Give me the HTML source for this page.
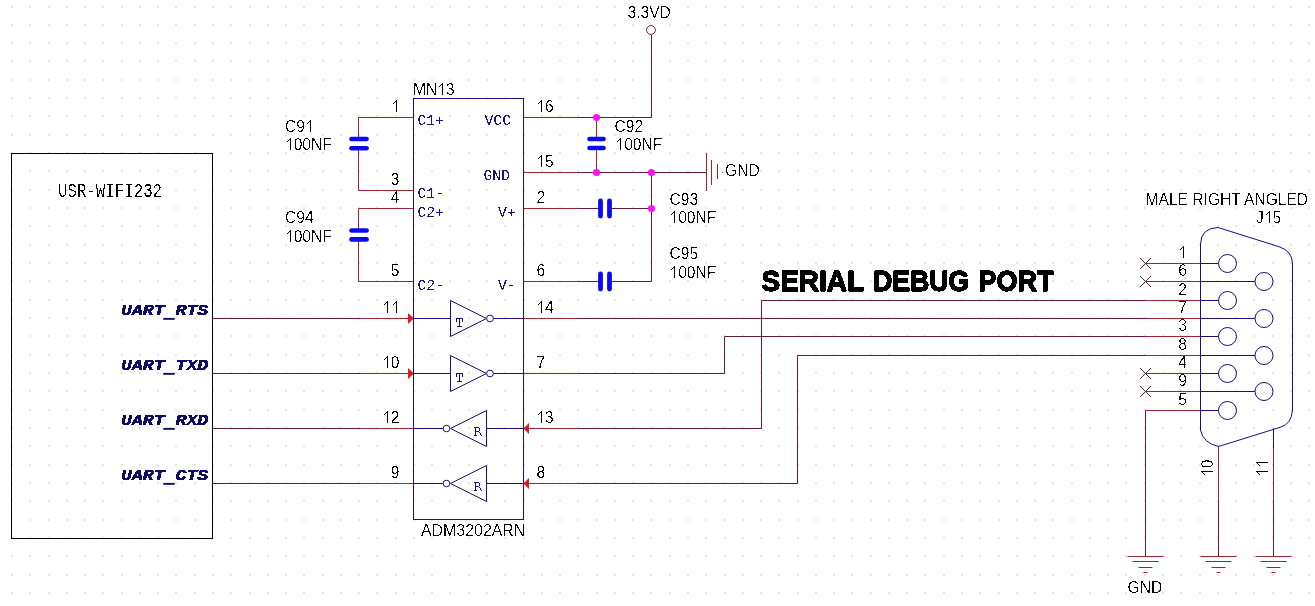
<!DOCTYPE html>
<html><head><meta charset="utf-8"><style>
html,body{margin:0;padding:0;background:#fff;overflow:hidden}
svg{display:block}
</style></head><body>
<svg width="1315" height="606" viewBox="0 0 1315 606">
<defs><filter id="al" x="-5%" y="-20%" width="110%" height="140%"><feComponentTransfer><feFuncA type="discrete" tableValues="0 1"/></feComponentTransfer></filter><filter id="al2" x="-5%" y="-20%" width="110%" height="140%"><feComponentTransfer><feFuncA type="discrete" tableValues="0 0 0 1 1"/></feComponentTransfer></filter></defs>
<rect width="1315" height="606" fill="#fff"/>
<path d="M11 6h2v2h-2zM11 24h2v2h-2zM11 42h2v2h-2zM11 60h2v2h-2zM11 79h2v2h-2zM11 97h2v2h-2zM11 115h2v2h-2zM11 134h2v2h-2zM11 152h2v2h-2zM11 170h2v2h-2zM11 189h2v2h-2zM11 207h2v2h-2zM11 225h2v2h-2zM11 244h2v2h-2zM11 262h2v2h-2zM11 280h2v2h-2zM11 299h2v2h-2zM11 317h2v2h-2zM11 335h2v2h-2zM11 354h2v2h-2zM11 372h2v2h-2zM11 390h2v2h-2zM11 409h2v2h-2zM11 427h2v2h-2zM11 445h2v2h-2zM11 464h2v2h-2zM11 482h2v2h-2zM11 500h2v2h-2zM11 519h2v2h-2zM11 537h2v2h-2zM11 555h2v2h-2zM11 574h2v2h-2zM11 592h2v2h-2zM29 6h2v2h-2zM29 24h2v2h-2zM29 42h2v2h-2zM29 60h2v2h-2zM29 79h2v2h-2zM29 97h2v2h-2zM29 115h2v2h-2zM29 134h2v2h-2zM29 152h2v2h-2zM29 170h2v2h-2zM29 189h2v2h-2zM29 207h2v2h-2zM29 225h2v2h-2zM29 244h2v2h-2zM29 262h2v2h-2zM29 280h2v2h-2zM29 299h2v2h-2zM29 317h2v2h-2zM29 335h2v2h-2zM29 354h2v2h-2zM29 372h2v2h-2zM29 390h2v2h-2zM29 409h2v2h-2zM29 427h2v2h-2zM29 445h2v2h-2zM29 464h2v2h-2zM29 482h2v2h-2zM29 500h2v2h-2zM29 519h2v2h-2zM29 537h2v2h-2zM29 555h2v2h-2zM29 574h2v2h-2zM29 592h2v2h-2zM48 6h2v2h-2zM48 24h2v2h-2zM48 42h2v2h-2zM48 60h2v2h-2zM48 79h2v2h-2zM48 97h2v2h-2zM48 115h2v2h-2zM48 134h2v2h-2zM48 152h2v2h-2zM48 170h2v2h-2zM48 189h2v2h-2zM48 207h2v2h-2zM48 225h2v2h-2zM48 244h2v2h-2zM48 262h2v2h-2zM48 280h2v2h-2zM48 299h2v2h-2zM48 317h2v2h-2zM48 335h2v2h-2zM48 354h2v2h-2zM48 372h2v2h-2zM48 390h2v2h-2zM48 409h2v2h-2zM48 427h2v2h-2zM48 445h2v2h-2zM48 464h2v2h-2zM48 482h2v2h-2zM48 500h2v2h-2zM48 519h2v2h-2zM48 537h2v2h-2zM48 555h2v2h-2zM48 574h2v2h-2zM48 592h2v2h-2zM66 6h2v2h-2zM66 24h2v2h-2zM66 42h2v2h-2zM66 60h2v2h-2zM66 79h2v2h-2zM66 97h2v2h-2zM66 115h2v2h-2zM66 134h2v2h-2zM66 152h2v2h-2zM66 170h2v2h-2zM66 189h2v2h-2zM66 207h2v2h-2zM66 225h2v2h-2zM66 244h2v2h-2zM66 262h2v2h-2zM66 280h2v2h-2zM66 299h2v2h-2zM66 317h2v2h-2zM66 335h2v2h-2zM66 354h2v2h-2zM66 372h2v2h-2zM66 390h2v2h-2zM66 409h2v2h-2zM66 427h2v2h-2zM66 445h2v2h-2zM66 464h2v2h-2zM66 482h2v2h-2zM66 500h2v2h-2zM66 519h2v2h-2zM66 537h2v2h-2zM66 555h2v2h-2zM66 574h2v2h-2zM66 592h2v2h-2zM84 6h2v2h-2zM84 24h2v2h-2zM84 42h2v2h-2zM84 60h2v2h-2zM84 79h2v2h-2zM84 97h2v2h-2zM84 115h2v2h-2zM84 134h2v2h-2zM84 152h2v2h-2zM84 170h2v2h-2zM84 189h2v2h-2zM84 207h2v2h-2zM84 225h2v2h-2zM84 244h2v2h-2zM84 262h2v2h-2zM84 280h2v2h-2zM84 299h2v2h-2zM84 317h2v2h-2zM84 335h2v2h-2zM84 354h2v2h-2zM84 372h2v2h-2zM84 390h2v2h-2zM84 409h2v2h-2zM84 427h2v2h-2zM84 445h2v2h-2zM84 464h2v2h-2zM84 482h2v2h-2zM84 500h2v2h-2zM84 519h2v2h-2zM84 537h2v2h-2zM84 555h2v2h-2zM84 574h2v2h-2zM84 592h2v2h-2zM102 6h2v2h-2zM102 24h2v2h-2zM102 42h2v2h-2zM102 60h2v2h-2zM102 79h2v2h-2zM102 97h2v2h-2zM102 115h2v2h-2zM102 134h2v2h-2zM102 152h2v2h-2zM102 170h2v2h-2zM102 189h2v2h-2zM102 207h2v2h-2zM102 225h2v2h-2zM102 244h2v2h-2zM102 262h2v2h-2zM102 280h2v2h-2zM102 299h2v2h-2zM102 317h2v2h-2zM102 335h2v2h-2zM102 354h2v2h-2zM102 372h2v2h-2zM102 390h2v2h-2zM102 409h2v2h-2zM102 427h2v2h-2zM102 445h2v2h-2zM102 464h2v2h-2zM102 482h2v2h-2zM102 500h2v2h-2zM102 519h2v2h-2zM102 537h2v2h-2zM102 555h2v2h-2zM102 574h2v2h-2zM102 592h2v2h-2zM121 6h2v2h-2zM121 24h2v2h-2zM121 42h2v2h-2zM121 60h2v2h-2zM121 79h2v2h-2zM121 97h2v2h-2zM121 115h2v2h-2zM121 134h2v2h-2zM121 152h2v2h-2zM121 170h2v2h-2zM121 189h2v2h-2zM121 207h2v2h-2zM121 225h2v2h-2zM121 244h2v2h-2zM121 262h2v2h-2zM121 280h2v2h-2zM121 299h2v2h-2zM121 317h2v2h-2zM121 335h2v2h-2zM121 354h2v2h-2zM121 372h2v2h-2zM121 390h2v2h-2zM121 409h2v2h-2zM121 427h2v2h-2zM121 445h2v2h-2zM121 464h2v2h-2zM121 482h2v2h-2zM121 500h2v2h-2zM121 519h2v2h-2zM121 537h2v2h-2zM121 555h2v2h-2zM121 574h2v2h-2zM121 592h2v2h-2zM139 6h2v2h-2zM139 24h2v2h-2zM139 42h2v2h-2zM139 60h2v2h-2zM139 79h2v2h-2zM139 97h2v2h-2zM139 115h2v2h-2zM139 134h2v2h-2zM139 152h2v2h-2zM139 170h2v2h-2zM139 189h2v2h-2zM139 207h2v2h-2zM139 225h2v2h-2zM139 244h2v2h-2zM139 262h2v2h-2zM139 280h2v2h-2zM139 299h2v2h-2zM139 317h2v2h-2zM139 335h2v2h-2zM139 354h2v2h-2zM139 372h2v2h-2zM139 390h2v2h-2zM139 409h2v2h-2zM139 427h2v2h-2zM139 445h2v2h-2zM139 464h2v2h-2zM139 482h2v2h-2zM139 500h2v2h-2zM139 519h2v2h-2zM139 537h2v2h-2zM139 555h2v2h-2zM139 574h2v2h-2zM139 592h2v2h-2zM157 6h2v2h-2zM157 24h2v2h-2zM157 42h2v2h-2zM157 60h2v2h-2zM157 79h2v2h-2zM157 97h2v2h-2zM157 115h2v2h-2zM157 134h2v2h-2zM157 152h2v2h-2zM157 170h2v2h-2zM157 189h2v2h-2zM157 207h2v2h-2zM157 225h2v2h-2zM157 244h2v2h-2zM157 262h2v2h-2zM157 280h2v2h-2zM157 299h2v2h-2zM157 317h2v2h-2zM157 335h2v2h-2zM157 354h2v2h-2zM157 372h2v2h-2zM157 390h2v2h-2zM157 409h2v2h-2zM157 427h2v2h-2zM157 445h2v2h-2zM157 464h2v2h-2zM157 482h2v2h-2zM157 500h2v2h-2zM157 519h2v2h-2zM157 537h2v2h-2zM157 555h2v2h-2zM157 574h2v2h-2zM157 592h2v2h-2zM175 6h2v2h-2zM175 24h2v2h-2zM175 42h2v2h-2zM175 60h2v2h-2zM175 79h2v2h-2zM175 97h2v2h-2zM175 115h2v2h-2zM175 134h2v2h-2zM175 152h2v2h-2zM175 170h2v2h-2zM175 189h2v2h-2zM175 207h2v2h-2zM175 225h2v2h-2zM175 244h2v2h-2zM175 262h2v2h-2zM175 280h2v2h-2zM175 299h2v2h-2zM175 317h2v2h-2zM175 335h2v2h-2zM175 354h2v2h-2zM175 372h2v2h-2zM175 390h2v2h-2zM175 409h2v2h-2zM175 427h2v2h-2zM175 445h2v2h-2zM175 464h2v2h-2zM175 482h2v2h-2zM175 500h2v2h-2zM175 519h2v2h-2zM175 537h2v2h-2zM175 555h2v2h-2zM175 574h2v2h-2zM175 592h2v2h-2zM194 6h2v2h-2zM194 24h2v2h-2zM194 42h2v2h-2zM194 60h2v2h-2zM194 79h2v2h-2zM194 97h2v2h-2zM194 115h2v2h-2zM194 134h2v2h-2zM194 152h2v2h-2zM194 170h2v2h-2zM194 189h2v2h-2zM194 207h2v2h-2zM194 225h2v2h-2zM194 244h2v2h-2zM194 262h2v2h-2zM194 280h2v2h-2zM194 299h2v2h-2zM194 317h2v2h-2zM194 335h2v2h-2zM194 354h2v2h-2zM194 372h2v2h-2zM194 390h2v2h-2zM194 409h2v2h-2zM194 427h2v2h-2zM194 445h2v2h-2zM194 464h2v2h-2zM194 482h2v2h-2zM194 500h2v2h-2zM194 519h2v2h-2zM194 537h2v2h-2zM194 555h2v2h-2zM194 574h2v2h-2zM194 592h2v2h-2zM212 6h2v2h-2zM212 24h2v2h-2zM212 42h2v2h-2zM212 60h2v2h-2zM212 79h2v2h-2zM212 97h2v2h-2zM212 115h2v2h-2zM212 134h2v2h-2zM212 152h2v2h-2zM212 170h2v2h-2zM212 189h2v2h-2zM212 207h2v2h-2zM212 225h2v2h-2zM212 244h2v2h-2zM212 262h2v2h-2zM212 280h2v2h-2zM212 299h2v2h-2zM212 317h2v2h-2zM212 335h2v2h-2zM212 354h2v2h-2zM212 372h2v2h-2zM212 390h2v2h-2zM212 409h2v2h-2zM212 427h2v2h-2zM212 445h2v2h-2zM212 464h2v2h-2zM212 482h2v2h-2zM212 500h2v2h-2zM212 519h2v2h-2zM212 537h2v2h-2zM212 555h2v2h-2zM212 574h2v2h-2zM212 592h2v2h-2zM230 6h2v2h-2zM230 24h2v2h-2zM230 42h2v2h-2zM230 60h2v2h-2zM230 79h2v2h-2zM230 97h2v2h-2zM230 115h2v2h-2zM230 134h2v2h-2zM230 152h2v2h-2zM230 170h2v2h-2zM230 189h2v2h-2zM230 207h2v2h-2zM230 225h2v2h-2zM230 244h2v2h-2zM230 262h2v2h-2zM230 280h2v2h-2zM230 299h2v2h-2zM230 317h2v2h-2zM230 335h2v2h-2zM230 354h2v2h-2zM230 372h2v2h-2zM230 390h2v2h-2zM230 409h2v2h-2zM230 427h2v2h-2zM230 445h2v2h-2zM230 464h2v2h-2zM230 482h2v2h-2zM230 500h2v2h-2zM230 519h2v2h-2zM230 537h2v2h-2zM230 555h2v2h-2zM230 574h2v2h-2zM230 592h2v2h-2zM249 6h2v2h-2zM249 24h2v2h-2zM249 42h2v2h-2zM249 60h2v2h-2zM249 79h2v2h-2zM249 97h2v2h-2zM249 115h2v2h-2zM249 134h2v2h-2zM249 152h2v2h-2zM249 170h2v2h-2zM249 189h2v2h-2zM249 207h2v2h-2zM249 225h2v2h-2zM249 244h2v2h-2zM249 262h2v2h-2zM249 280h2v2h-2zM249 299h2v2h-2zM249 317h2v2h-2zM249 335h2v2h-2zM249 354h2v2h-2zM249 372h2v2h-2zM249 390h2v2h-2zM249 409h2v2h-2zM249 427h2v2h-2zM249 445h2v2h-2zM249 464h2v2h-2zM249 482h2v2h-2zM249 500h2v2h-2zM249 519h2v2h-2zM249 537h2v2h-2zM249 555h2v2h-2zM249 574h2v2h-2zM249 592h2v2h-2zM267 6h2v2h-2zM267 24h2v2h-2zM267 42h2v2h-2zM267 60h2v2h-2zM267 79h2v2h-2zM267 97h2v2h-2zM267 115h2v2h-2zM267 134h2v2h-2zM267 152h2v2h-2zM267 170h2v2h-2zM267 189h2v2h-2zM267 207h2v2h-2zM267 225h2v2h-2zM267 244h2v2h-2zM267 262h2v2h-2zM267 280h2v2h-2zM267 299h2v2h-2zM267 317h2v2h-2zM267 335h2v2h-2zM267 354h2v2h-2zM267 372h2v2h-2zM267 390h2v2h-2zM267 409h2v2h-2zM267 427h2v2h-2zM267 445h2v2h-2zM267 464h2v2h-2zM267 482h2v2h-2zM267 500h2v2h-2zM267 519h2v2h-2zM267 537h2v2h-2zM267 555h2v2h-2zM267 574h2v2h-2zM267 592h2v2h-2zM285 6h2v2h-2zM285 24h2v2h-2zM285 42h2v2h-2zM285 60h2v2h-2zM285 79h2v2h-2zM285 97h2v2h-2zM285 115h2v2h-2zM285 134h2v2h-2zM285 152h2v2h-2zM285 170h2v2h-2zM285 189h2v2h-2zM285 207h2v2h-2zM285 225h2v2h-2zM285 244h2v2h-2zM285 262h2v2h-2zM285 280h2v2h-2zM285 299h2v2h-2zM285 317h2v2h-2zM285 335h2v2h-2zM285 354h2v2h-2zM285 372h2v2h-2zM285 390h2v2h-2zM285 409h2v2h-2zM285 427h2v2h-2zM285 445h2v2h-2zM285 464h2v2h-2zM285 482h2v2h-2zM285 500h2v2h-2zM285 519h2v2h-2zM285 537h2v2h-2zM285 555h2v2h-2zM285 574h2v2h-2zM285 592h2v2h-2zM303 6h2v2h-2zM303 24h2v2h-2zM303 42h2v2h-2zM303 60h2v2h-2zM303 79h2v2h-2zM303 97h2v2h-2zM303 115h2v2h-2zM303 134h2v2h-2zM303 152h2v2h-2zM303 170h2v2h-2zM303 189h2v2h-2zM303 207h2v2h-2zM303 225h2v2h-2zM303 244h2v2h-2zM303 262h2v2h-2zM303 280h2v2h-2zM303 299h2v2h-2zM303 317h2v2h-2zM303 335h2v2h-2zM303 354h2v2h-2zM303 372h2v2h-2zM303 390h2v2h-2zM303 409h2v2h-2zM303 427h2v2h-2zM303 445h2v2h-2zM303 464h2v2h-2zM303 482h2v2h-2zM303 500h2v2h-2zM303 519h2v2h-2zM303 537h2v2h-2zM303 555h2v2h-2zM303 574h2v2h-2zM303 592h2v2h-2zM322 6h2v2h-2zM322 24h2v2h-2zM322 42h2v2h-2zM322 60h2v2h-2zM322 79h2v2h-2zM322 97h2v2h-2zM322 115h2v2h-2zM322 134h2v2h-2zM322 152h2v2h-2zM322 170h2v2h-2zM322 189h2v2h-2zM322 207h2v2h-2zM322 225h2v2h-2zM322 244h2v2h-2zM322 262h2v2h-2zM322 280h2v2h-2zM322 299h2v2h-2zM322 317h2v2h-2zM322 335h2v2h-2zM322 354h2v2h-2zM322 372h2v2h-2zM322 390h2v2h-2zM322 409h2v2h-2zM322 427h2v2h-2zM322 445h2v2h-2zM322 464h2v2h-2zM322 482h2v2h-2zM322 500h2v2h-2zM322 519h2v2h-2zM322 537h2v2h-2zM322 555h2v2h-2zM322 574h2v2h-2zM322 592h2v2h-2zM340 6h2v2h-2zM340 24h2v2h-2zM340 42h2v2h-2zM340 60h2v2h-2zM340 79h2v2h-2zM340 97h2v2h-2zM340 115h2v2h-2zM340 134h2v2h-2zM340 152h2v2h-2zM340 170h2v2h-2zM340 189h2v2h-2zM340 207h2v2h-2zM340 225h2v2h-2zM340 244h2v2h-2zM340 262h2v2h-2zM340 280h2v2h-2zM340 299h2v2h-2zM340 317h2v2h-2zM340 335h2v2h-2zM340 354h2v2h-2zM340 372h2v2h-2zM340 390h2v2h-2zM340 409h2v2h-2zM340 427h2v2h-2zM340 445h2v2h-2zM340 464h2v2h-2zM340 482h2v2h-2zM340 500h2v2h-2zM340 519h2v2h-2zM340 537h2v2h-2zM340 555h2v2h-2zM340 574h2v2h-2zM340 592h2v2h-2zM358 6h2v2h-2zM358 24h2v2h-2zM358 42h2v2h-2zM358 60h2v2h-2zM358 79h2v2h-2zM358 97h2v2h-2zM358 115h2v2h-2zM358 134h2v2h-2zM358 152h2v2h-2zM358 170h2v2h-2zM358 189h2v2h-2zM358 207h2v2h-2zM358 225h2v2h-2zM358 244h2v2h-2zM358 262h2v2h-2zM358 280h2v2h-2zM358 299h2v2h-2zM358 317h2v2h-2zM358 335h2v2h-2zM358 354h2v2h-2zM358 372h2v2h-2zM358 390h2v2h-2zM358 409h2v2h-2zM358 427h2v2h-2zM358 445h2v2h-2zM358 464h2v2h-2zM358 482h2v2h-2zM358 500h2v2h-2zM358 519h2v2h-2zM358 537h2v2h-2zM358 555h2v2h-2zM358 574h2v2h-2zM358 592h2v2h-2zM376 6h2v2h-2zM376 24h2v2h-2zM376 42h2v2h-2zM376 60h2v2h-2zM376 79h2v2h-2zM376 97h2v2h-2zM376 115h2v2h-2zM376 134h2v2h-2zM376 152h2v2h-2zM376 170h2v2h-2zM376 189h2v2h-2zM376 207h2v2h-2zM376 225h2v2h-2zM376 244h2v2h-2zM376 262h2v2h-2zM376 280h2v2h-2zM376 299h2v2h-2zM376 317h2v2h-2zM376 335h2v2h-2zM376 354h2v2h-2zM376 372h2v2h-2zM376 390h2v2h-2zM376 409h2v2h-2zM376 427h2v2h-2zM376 445h2v2h-2zM376 464h2v2h-2zM376 482h2v2h-2zM376 500h2v2h-2zM376 519h2v2h-2zM376 537h2v2h-2zM376 555h2v2h-2zM376 574h2v2h-2zM376 592h2v2h-2zM395 6h2v2h-2zM395 24h2v2h-2zM395 42h2v2h-2zM395 60h2v2h-2zM395 79h2v2h-2zM395 97h2v2h-2zM395 115h2v2h-2zM395 134h2v2h-2zM395 152h2v2h-2zM395 170h2v2h-2zM395 189h2v2h-2zM395 207h2v2h-2zM395 225h2v2h-2zM395 244h2v2h-2zM395 262h2v2h-2zM395 280h2v2h-2zM395 299h2v2h-2zM395 317h2v2h-2zM395 335h2v2h-2zM395 354h2v2h-2zM395 372h2v2h-2zM395 390h2v2h-2zM395 409h2v2h-2zM395 427h2v2h-2zM395 445h2v2h-2zM395 464h2v2h-2zM395 482h2v2h-2zM395 500h2v2h-2zM395 519h2v2h-2zM395 537h2v2h-2zM395 555h2v2h-2zM395 574h2v2h-2zM395 592h2v2h-2zM413 6h2v2h-2zM413 24h2v2h-2zM413 42h2v2h-2zM413 60h2v2h-2zM413 79h2v2h-2zM413 97h2v2h-2zM413 115h2v2h-2zM413 134h2v2h-2zM413 152h2v2h-2zM413 170h2v2h-2zM413 189h2v2h-2zM413 207h2v2h-2zM413 225h2v2h-2zM413 244h2v2h-2zM413 262h2v2h-2zM413 280h2v2h-2zM413 299h2v2h-2zM413 317h2v2h-2zM413 335h2v2h-2zM413 354h2v2h-2zM413 372h2v2h-2zM413 390h2v2h-2zM413 409h2v2h-2zM413 427h2v2h-2zM413 445h2v2h-2zM413 464h2v2h-2zM413 482h2v2h-2zM413 500h2v2h-2zM413 519h2v2h-2zM413 537h2v2h-2zM413 555h2v2h-2zM413 574h2v2h-2zM413 592h2v2h-2zM431 6h2v2h-2zM431 24h2v2h-2zM431 42h2v2h-2zM431 60h2v2h-2zM431 79h2v2h-2zM431 97h2v2h-2zM431 115h2v2h-2zM431 134h2v2h-2zM431 152h2v2h-2zM431 170h2v2h-2zM431 189h2v2h-2zM431 207h2v2h-2zM431 225h2v2h-2zM431 244h2v2h-2zM431 262h2v2h-2zM431 280h2v2h-2zM431 299h2v2h-2zM431 317h2v2h-2zM431 335h2v2h-2zM431 354h2v2h-2zM431 372h2v2h-2zM431 390h2v2h-2zM431 409h2v2h-2zM431 427h2v2h-2zM431 445h2v2h-2zM431 464h2v2h-2zM431 482h2v2h-2zM431 500h2v2h-2zM431 519h2v2h-2zM431 537h2v2h-2zM431 555h2v2h-2zM431 574h2v2h-2zM431 592h2v2h-2zM449 6h2v2h-2zM449 24h2v2h-2zM449 42h2v2h-2zM449 60h2v2h-2zM449 79h2v2h-2zM449 97h2v2h-2zM449 115h2v2h-2zM449 134h2v2h-2zM449 152h2v2h-2zM449 170h2v2h-2zM449 189h2v2h-2zM449 207h2v2h-2zM449 225h2v2h-2zM449 244h2v2h-2zM449 262h2v2h-2zM449 280h2v2h-2zM449 299h2v2h-2zM449 317h2v2h-2zM449 335h2v2h-2zM449 354h2v2h-2zM449 372h2v2h-2zM449 390h2v2h-2zM449 409h2v2h-2zM449 427h2v2h-2zM449 445h2v2h-2zM449 464h2v2h-2zM449 482h2v2h-2zM449 500h2v2h-2zM449 519h2v2h-2zM449 537h2v2h-2zM449 555h2v2h-2zM449 574h2v2h-2zM449 592h2v2h-2zM468 6h2v2h-2zM468 24h2v2h-2zM468 42h2v2h-2zM468 60h2v2h-2zM468 79h2v2h-2zM468 97h2v2h-2zM468 115h2v2h-2zM468 134h2v2h-2zM468 152h2v2h-2zM468 170h2v2h-2zM468 189h2v2h-2zM468 207h2v2h-2zM468 225h2v2h-2zM468 244h2v2h-2zM468 262h2v2h-2zM468 280h2v2h-2zM468 299h2v2h-2zM468 317h2v2h-2zM468 335h2v2h-2zM468 354h2v2h-2zM468 372h2v2h-2zM468 390h2v2h-2zM468 409h2v2h-2zM468 427h2v2h-2zM468 445h2v2h-2zM468 464h2v2h-2zM468 482h2v2h-2zM468 500h2v2h-2zM468 519h2v2h-2zM468 537h2v2h-2zM468 555h2v2h-2zM468 574h2v2h-2zM468 592h2v2h-2zM486 6h2v2h-2zM486 24h2v2h-2zM486 42h2v2h-2zM486 60h2v2h-2zM486 79h2v2h-2zM486 97h2v2h-2zM486 115h2v2h-2zM486 134h2v2h-2zM486 152h2v2h-2zM486 170h2v2h-2zM486 189h2v2h-2zM486 207h2v2h-2zM486 225h2v2h-2zM486 244h2v2h-2zM486 262h2v2h-2zM486 280h2v2h-2zM486 299h2v2h-2zM486 317h2v2h-2zM486 335h2v2h-2zM486 354h2v2h-2zM486 372h2v2h-2zM486 390h2v2h-2zM486 409h2v2h-2zM486 427h2v2h-2zM486 445h2v2h-2zM486 464h2v2h-2zM486 482h2v2h-2zM486 500h2v2h-2zM486 519h2v2h-2zM486 537h2v2h-2zM486 555h2v2h-2zM486 574h2v2h-2zM486 592h2v2h-2zM504 6h2v2h-2zM504 24h2v2h-2zM504 42h2v2h-2zM504 60h2v2h-2zM504 79h2v2h-2zM504 97h2v2h-2zM504 115h2v2h-2zM504 134h2v2h-2zM504 152h2v2h-2zM504 170h2v2h-2zM504 189h2v2h-2zM504 207h2v2h-2zM504 225h2v2h-2zM504 244h2v2h-2zM504 262h2v2h-2zM504 280h2v2h-2zM504 299h2v2h-2zM504 317h2v2h-2zM504 335h2v2h-2zM504 354h2v2h-2zM504 372h2v2h-2zM504 390h2v2h-2zM504 409h2v2h-2zM504 427h2v2h-2zM504 445h2v2h-2zM504 464h2v2h-2zM504 482h2v2h-2zM504 500h2v2h-2zM504 519h2v2h-2zM504 537h2v2h-2zM504 555h2v2h-2zM504 574h2v2h-2zM504 592h2v2h-2zM523 6h2v2h-2zM523 24h2v2h-2zM523 42h2v2h-2zM523 60h2v2h-2zM523 79h2v2h-2zM523 97h2v2h-2zM523 115h2v2h-2zM523 134h2v2h-2zM523 152h2v2h-2zM523 170h2v2h-2zM523 189h2v2h-2zM523 207h2v2h-2zM523 225h2v2h-2zM523 244h2v2h-2zM523 262h2v2h-2zM523 280h2v2h-2zM523 299h2v2h-2zM523 317h2v2h-2zM523 335h2v2h-2zM523 354h2v2h-2zM523 372h2v2h-2zM523 390h2v2h-2zM523 409h2v2h-2zM523 427h2v2h-2zM523 445h2v2h-2zM523 464h2v2h-2zM523 482h2v2h-2zM523 500h2v2h-2zM523 519h2v2h-2zM523 537h2v2h-2zM523 555h2v2h-2zM523 574h2v2h-2zM523 592h2v2h-2zM541 6h2v2h-2zM541 24h2v2h-2zM541 42h2v2h-2zM541 60h2v2h-2zM541 79h2v2h-2zM541 97h2v2h-2zM541 115h2v2h-2zM541 134h2v2h-2zM541 152h2v2h-2zM541 170h2v2h-2zM541 189h2v2h-2zM541 207h2v2h-2zM541 225h2v2h-2zM541 244h2v2h-2zM541 262h2v2h-2zM541 280h2v2h-2zM541 299h2v2h-2zM541 317h2v2h-2zM541 335h2v2h-2zM541 354h2v2h-2zM541 372h2v2h-2zM541 390h2v2h-2zM541 409h2v2h-2zM541 427h2v2h-2zM541 445h2v2h-2zM541 464h2v2h-2zM541 482h2v2h-2zM541 500h2v2h-2zM541 519h2v2h-2zM541 537h2v2h-2zM541 555h2v2h-2zM541 574h2v2h-2zM541 592h2v2h-2zM559 6h2v2h-2zM559 24h2v2h-2zM559 42h2v2h-2zM559 60h2v2h-2zM559 79h2v2h-2zM559 97h2v2h-2zM559 115h2v2h-2zM559 134h2v2h-2zM559 152h2v2h-2zM559 170h2v2h-2zM559 189h2v2h-2zM559 207h2v2h-2zM559 225h2v2h-2zM559 244h2v2h-2zM559 262h2v2h-2zM559 280h2v2h-2zM559 299h2v2h-2zM559 317h2v2h-2zM559 335h2v2h-2zM559 354h2v2h-2zM559 372h2v2h-2zM559 390h2v2h-2zM559 409h2v2h-2zM559 427h2v2h-2zM559 445h2v2h-2zM559 464h2v2h-2zM559 482h2v2h-2zM559 500h2v2h-2zM559 519h2v2h-2zM559 537h2v2h-2zM559 555h2v2h-2zM559 574h2v2h-2zM559 592h2v2h-2zM577 6h2v2h-2zM577 24h2v2h-2zM577 42h2v2h-2zM577 60h2v2h-2zM577 79h2v2h-2zM577 97h2v2h-2zM577 115h2v2h-2zM577 134h2v2h-2zM577 152h2v2h-2zM577 170h2v2h-2zM577 189h2v2h-2zM577 207h2v2h-2zM577 225h2v2h-2zM577 244h2v2h-2zM577 262h2v2h-2zM577 280h2v2h-2zM577 299h2v2h-2zM577 317h2v2h-2zM577 335h2v2h-2zM577 354h2v2h-2zM577 372h2v2h-2zM577 390h2v2h-2zM577 409h2v2h-2zM577 427h2v2h-2zM577 445h2v2h-2zM577 464h2v2h-2zM577 482h2v2h-2zM577 500h2v2h-2zM577 519h2v2h-2zM577 537h2v2h-2zM577 555h2v2h-2zM577 574h2v2h-2zM577 592h2v2h-2zM596 6h2v2h-2zM596 24h2v2h-2zM596 42h2v2h-2zM596 60h2v2h-2zM596 79h2v2h-2zM596 97h2v2h-2zM596 115h2v2h-2zM596 134h2v2h-2zM596 152h2v2h-2zM596 170h2v2h-2zM596 189h2v2h-2zM596 207h2v2h-2zM596 225h2v2h-2zM596 244h2v2h-2zM596 262h2v2h-2zM596 280h2v2h-2zM596 299h2v2h-2zM596 317h2v2h-2zM596 335h2v2h-2zM596 354h2v2h-2zM596 372h2v2h-2zM596 390h2v2h-2zM596 409h2v2h-2zM596 427h2v2h-2zM596 445h2v2h-2zM596 464h2v2h-2zM596 482h2v2h-2zM596 500h2v2h-2zM596 519h2v2h-2zM596 537h2v2h-2zM596 555h2v2h-2zM596 574h2v2h-2zM596 592h2v2h-2zM614 6h2v2h-2zM614 24h2v2h-2zM614 42h2v2h-2zM614 60h2v2h-2zM614 79h2v2h-2zM614 97h2v2h-2zM614 115h2v2h-2zM614 134h2v2h-2zM614 152h2v2h-2zM614 170h2v2h-2zM614 189h2v2h-2zM614 207h2v2h-2zM614 225h2v2h-2zM614 244h2v2h-2zM614 262h2v2h-2zM614 280h2v2h-2zM614 299h2v2h-2zM614 317h2v2h-2zM614 335h2v2h-2zM614 354h2v2h-2zM614 372h2v2h-2zM614 390h2v2h-2zM614 409h2v2h-2zM614 427h2v2h-2zM614 445h2v2h-2zM614 464h2v2h-2zM614 482h2v2h-2zM614 500h2v2h-2zM614 519h2v2h-2zM614 537h2v2h-2zM614 555h2v2h-2zM614 574h2v2h-2zM614 592h2v2h-2zM632 6h2v2h-2zM632 24h2v2h-2zM632 42h2v2h-2zM632 60h2v2h-2zM632 79h2v2h-2zM632 97h2v2h-2zM632 115h2v2h-2zM632 134h2v2h-2zM632 152h2v2h-2zM632 170h2v2h-2zM632 189h2v2h-2zM632 207h2v2h-2zM632 225h2v2h-2zM632 244h2v2h-2zM632 262h2v2h-2zM632 280h2v2h-2zM632 299h2v2h-2zM632 317h2v2h-2zM632 335h2v2h-2zM632 354h2v2h-2zM632 372h2v2h-2zM632 390h2v2h-2zM632 409h2v2h-2zM632 427h2v2h-2zM632 445h2v2h-2zM632 464h2v2h-2zM632 482h2v2h-2zM632 500h2v2h-2zM632 519h2v2h-2zM632 537h2v2h-2zM632 555h2v2h-2zM632 574h2v2h-2zM632 592h2v2h-2zM650 6h2v2h-2zM650 24h2v2h-2zM650 42h2v2h-2zM650 60h2v2h-2zM650 79h2v2h-2zM650 97h2v2h-2zM650 115h2v2h-2zM650 134h2v2h-2zM650 152h2v2h-2zM650 170h2v2h-2zM650 189h2v2h-2zM650 207h2v2h-2zM650 225h2v2h-2zM650 244h2v2h-2zM650 262h2v2h-2zM650 280h2v2h-2zM650 299h2v2h-2zM650 317h2v2h-2zM650 335h2v2h-2zM650 354h2v2h-2zM650 372h2v2h-2zM650 390h2v2h-2zM650 409h2v2h-2zM650 427h2v2h-2zM650 445h2v2h-2zM650 464h2v2h-2zM650 482h2v2h-2zM650 500h2v2h-2zM650 519h2v2h-2zM650 537h2v2h-2zM650 555h2v2h-2zM650 574h2v2h-2zM650 592h2v2h-2zM669 6h2v2h-2zM669 24h2v2h-2zM669 42h2v2h-2zM669 60h2v2h-2zM669 79h2v2h-2zM669 97h2v2h-2zM669 115h2v2h-2zM669 134h2v2h-2zM669 152h2v2h-2zM669 170h2v2h-2zM669 189h2v2h-2zM669 207h2v2h-2zM669 225h2v2h-2zM669 244h2v2h-2zM669 262h2v2h-2zM669 280h2v2h-2zM669 299h2v2h-2zM669 317h2v2h-2zM669 335h2v2h-2zM669 354h2v2h-2zM669 372h2v2h-2zM669 390h2v2h-2zM669 409h2v2h-2zM669 427h2v2h-2zM669 445h2v2h-2zM669 464h2v2h-2zM669 482h2v2h-2zM669 500h2v2h-2zM669 519h2v2h-2zM669 537h2v2h-2zM669 555h2v2h-2zM669 574h2v2h-2zM669 592h2v2h-2zM687 6h2v2h-2zM687 24h2v2h-2zM687 42h2v2h-2zM687 60h2v2h-2zM687 79h2v2h-2zM687 97h2v2h-2zM687 115h2v2h-2zM687 134h2v2h-2zM687 152h2v2h-2zM687 170h2v2h-2zM687 189h2v2h-2zM687 207h2v2h-2zM687 225h2v2h-2zM687 244h2v2h-2zM687 262h2v2h-2zM687 280h2v2h-2zM687 299h2v2h-2zM687 317h2v2h-2zM687 335h2v2h-2zM687 354h2v2h-2zM687 372h2v2h-2zM687 390h2v2h-2zM687 409h2v2h-2zM687 427h2v2h-2zM687 445h2v2h-2zM687 464h2v2h-2zM687 482h2v2h-2zM687 500h2v2h-2zM687 519h2v2h-2zM687 537h2v2h-2zM687 555h2v2h-2zM687 574h2v2h-2zM687 592h2v2h-2zM705 6h2v2h-2zM705 24h2v2h-2zM705 42h2v2h-2zM705 60h2v2h-2zM705 79h2v2h-2zM705 97h2v2h-2zM705 115h2v2h-2zM705 134h2v2h-2zM705 152h2v2h-2zM705 170h2v2h-2zM705 189h2v2h-2zM705 207h2v2h-2zM705 225h2v2h-2zM705 244h2v2h-2zM705 262h2v2h-2zM705 280h2v2h-2zM705 299h2v2h-2zM705 317h2v2h-2zM705 335h2v2h-2zM705 354h2v2h-2zM705 372h2v2h-2zM705 390h2v2h-2zM705 409h2v2h-2zM705 427h2v2h-2zM705 445h2v2h-2zM705 464h2v2h-2zM705 482h2v2h-2zM705 500h2v2h-2zM705 519h2v2h-2zM705 537h2v2h-2zM705 555h2v2h-2zM705 574h2v2h-2zM705 592h2v2h-2zM724 6h2v2h-2zM724 24h2v2h-2zM724 42h2v2h-2zM724 60h2v2h-2zM724 79h2v2h-2zM724 97h2v2h-2zM724 115h2v2h-2zM724 134h2v2h-2zM724 152h2v2h-2zM724 170h2v2h-2zM724 189h2v2h-2zM724 207h2v2h-2zM724 225h2v2h-2zM724 244h2v2h-2zM724 262h2v2h-2zM724 280h2v2h-2zM724 299h2v2h-2zM724 317h2v2h-2zM724 335h2v2h-2zM724 354h2v2h-2zM724 372h2v2h-2zM724 390h2v2h-2zM724 409h2v2h-2zM724 427h2v2h-2zM724 445h2v2h-2zM724 464h2v2h-2zM724 482h2v2h-2zM724 500h2v2h-2zM724 519h2v2h-2zM724 537h2v2h-2zM724 555h2v2h-2zM724 574h2v2h-2zM724 592h2v2h-2zM742 6h2v2h-2zM742 24h2v2h-2zM742 42h2v2h-2zM742 60h2v2h-2zM742 79h2v2h-2zM742 97h2v2h-2zM742 115h2v2h-2zM742 134h2v2h-2zM742 152h2v2h-2zM742 170h2v2h-2zM742 189h2v2h-2zM742 207h2v2h-2zM742 225h2v2h-2zM742 244h2v2h-2zM742 262h2v2h-2zM742 280h2v2h-2zM742 299h2v2h-2zM742 317h2v2h-2zM742 335h2v2h-2zM742 354h2v2h-2zM742 372h2v2h-2zM742 390h2v2h-2zM742 409h2v2h-2zM742 427h2v2h-2zM742 445h2v2h-2zM742 464h2v2h-2zM742 482h2v2h-2zM742 500h2v2h-2zM742 519h2v2h-2zM742 537h2v2h-2zM742 555h2v2h-2zM742 574h2v2h-2zM742 592h2v2h-2zM760 6h2v2h-2zM760 24h2v2h-2zM760 42h2v2h-2zM760 60h2v2h-2zM760 79h2v2h-2zM760 97h2v2h-2zM760 115h2v2h-2zM760 134h2v2h-2zM760 152h2v2h-2zM760 170h2v2h-2zM760 189h2v2h-2zM760 207h2v2h-2zM760 225h2v2h-2zM760 244h2v2h-2zM760 262h2v2h-2zM760 280h2v2h-2zM760 299h2v2h-2zM760 317h2v2h-2zM760 335h2v2h-2zM760 354h2v2h-2zM760 372h2v2h-2zM760 390h2v2h-2zM760 409h2v2h-2zM760 427h2v2h-2zM760 445h2v2h-2zM760 464h2v2h-2zM760 482h2v2h-2zM760 500h2v2h-2zM760 519h2v2h-2zM760 537h2v2h-2zM760 555h2v2h-2zM760 574h2v2h-2zM760 592h2v2h-2zM778 6h2v2h-2zM778 24h2v2h-2zM778 42h2v2h-2zM778 60h2v2h-2zM778 79h2v2h-2zM778 97h2v2h-2zM778 115h2v2h-2zM778 134h2v2h-2zM778 152h2v2h-2zM778 170h2v2h-2zM778 189h2v2h-2zM778 207h2v2h-2zM778 225h2v2h-2zM778 244h2v2h-2zM778 262h2v2h-2zM778 280h2v2h-2zM778 299h2v2h-2zM778 317h2v2h-2zM778 335h2v2h-2zM778 354h2v2h-2zM778 372h2v2h-2zM778 390h2v2h-2zM778 409h2v2h-2zM778 427h2v2h-2zM778 445h2v2h-2zM778 464h2v2h-2zM778 482h2v2h-2zM778 500h2v2h-2zM778 519h2v2h-2zM778 537h2v2h-2zM778 555h2v2h-2zM778 574h2v2h-2zM778 592h2v2h-2zM797 6h2v2h-2zM797 24h2v2h-2zM797 42h2v2h-2zM797 60h2v2h-2zM797 79h2v2h-2zM797 97h2v2h-2zM797 115h2v2h-2zM797 134h2v2h-2zM797 152h2v2h-2zM797 170h2v2h-2zM797 189h2v2h-2zM797 207h2v2h-2zM797 225h2v2h-2zM797 244h2v2h-2zM797 262h2v2h-2zM797 280h2v2h-2zM797 299h2v2h-2zM797 317h2v2h-2zM797 335h2v2h-2zM797 354h2v2h-2zM797 372h2v2h-2zM797 390h2v2h-2zM797 409h2v2h-2zM797 427h2v2h-2zM797 445h2v2h-2zM797 464h2v2h-2zM797 482h2v2h-2zM797 500h2v2h-2zM797 519h2v2h-2zM797 537h2v2h-2zM797 555h2v2h-2zM797 574h2v2h-2zM797 592h2v2h-2zM815 6h2v2h-2zM815 24h2v2h-2zM815 42h2v2h-2zM815 60h2v2h-2zM815 79h2v2h-2zM815 97h2v2h-2zM815 115h2v2h-2zM815 134h2v2h-2zM815 152h2v2h-2zM815 170h2v2h-2zM815 189h2v2h-2zM815 207h2v2h-2zM815 225h2v2h-2zM815 244h2v2h-2zM815 262h2v2h-2zM815 280h2v2h-2zM815 299h2v2h-2zM815 317h2v2h-2zM815 335h2v2h-2zM815 354h2v2h-2zM815 372h2v2h-2zM815 390h2v2h-2zM815 409h2v2h-2zM815 427h2v2h-2zM815 445h2v2h-2zM815 464h2v2h-2zM815 482h2v2h-2zM815 500h2v2h-2zM815 519h2v2h-2zM815 537h2v2h-2zM815 555h2v2h-2zM815 574h2v2h-2zM815 592h2v2h-2zM833 6h2v2h-2zM833 24h2v2h-2zM833 42h2v2h-2zM833 60h2v2h-2zM833 79h2v2h-2zM833 97h2v2h-2zM833 115h2v2h-2zM833 134h2v2h-2zM833 152h2v2h-2zM833 170h2v2h-2zM833 189h2v2h-2zM833 207h2v2h-2zM833 225h2v2h-2zM833 244h2v2h-2zM833 262h2v2h-2zM833 280h2v2h-2zM833 299h2v2h-2zM833 317h2v2h-2zM833 335h2v2h-2zM833 354h2v2h-2zM833 372h2v2h-2zM833 390h2v2h-2zM833 409h2v2h-2zM833 427h2v2h-2zM833 445h2v2h-2zM833 464h2v2h-2zM833 482h2v2h-2zM833 500h2v2h-2zM833 519h2v2h-2zM833 537h2v2h-2zM833 555h2v2h-2zM833 574h2v2h-2zM833 592h2v2h-2zM851 6h2v2h-2zM851 24h2v2h-2zM851 42h2v2h-2zM851 60h2v2h-2zM851 79h2v2h-2zM851 97h2v2h-2zM851 115h2v2h-2zM851 134h2v2h-2zM851 152h2v2h-2zM851 170h2v2h-2zM851 189h2v2h-2zM851 207h2v2h-2zM851 225h2v2h-2zM851 244h2v2h-2zM851 262h2v2h-2zM851 280h2v2h-2zM851 299h2v2h-2zM851 317h2v2h-2zM851 335h2v2h-2zM851 354h2v2h-2zM851 372h2v2h-2zM851 390h2v2h-2zM851 409h2v2h-2zM851 427h2v2h-2zM851 445h2v2h-2zM851 464h2v2h-2zM851 482h2v2h-2zM851 500h2v2h-2zM851 519h2v2h-2zM851 537h2v2h-2zM851 555h2v2h-2zM851 574h2v2h-2zM851 592h2v2h-2zM870 6h2v2h-2zM870 24h2v2h-2zM870 42h2v2h-2zM870 60h2v2h-2zM870 79h2v2h-2zM870 97h2v2h-2zM870 115h2v2h-2zM870 134h2v2h-2zM870 152h2v2h-2zM870 170h2v2h-2zM870 189h2v2h-2zM870 207h2v2h-2zM870 225h2v2h-2zM870 244h2v2h-2zM870 262h2v2h-2zM870 280h2v2h-2zM870 299h2v2h-2zM870 317h2v2h-2zM870 335h2v2h-2zM870 354h2v2h-2zM870 372h2v2h-2zM870 390h2v2h-2zM870 409h2v2h-2zM870 427h2v2h-2zM870 445h2v2h-2zM870 464h2v2h-2zM870 482h2v2h-2zM870 500h2v2h-2zM870 519h2v2h-2zM870 537h2v2h-2zM870 555h2v2h-2zM870 574h2v2h-2zM870 592h2v2h-2zM888 6h2v2h-2zM888 24h2v2h-2zM888 42h2v2h-2zM888 60h2v2h-2zM888 79h2v2h-2zM888 97h2v2h-2zM888 115h2v2h-2zM888 134h2v2h-2zM888 152h2v2h-2zM888 170h2v2h-2zM888 189h2v2h-2zM888 207h2v2h-2zM888 225h2v2h-2zM888 244h2v2h-2zM888 262h2v2h-2zM888 280h2v2h-2zM888 299h2v2h-2zM888 317h2v2h-2zM888 335h2v2h-2zM888 354h2v2h-2zM888 372h2v2h-2zM888 390h2v2h-2zM888 409h2v2h-2zM888 427h2v2h-2zM888 445h2v2h-2zM888 464h2v2h-2zM888 482h2v2h-2zM888 500h2v2h-2zM888 519h2v2h-2zM888 537h2v2h-2zM888 555h2v2h-2zM888 574h2v2h-2zM888 592h2v2h-2zM906 6h2v2h-2zM906 24h2v2h-2zM906 42h2v2h-2zM906 60h2v2h-2zM906 79h2v2h-2zM906 97h2v2h-2zM906 115h2v2h-2zM906 134h2v2h-2zM906 152h2v2h-2zM906 170h2v2h-2zM906 189h2v2h-2zM906 207h2v2h-2zM906 225h2v2h-2zM906 244h2v2h-2zM906 262h2v2h-2zM906 280h2v2h-2zM906 299h2v2h-2zM906 317h2v2h-2zM906 335h2v2h-2zM906 354h2v2h-2zM906 372h2v2h-2zM906 390h2v2h-2zM906 409h2v2h-2zM906 427h2v2h-2zM906 445h2v2h-2zM906 464h2v2h-2zM906 482h2v2h-2zM906 500h2v2h-2zM906 519h2v2h-2zM906 537h2v2h-2zM906 555h2v2h-2zM906 574h2v2h-2zM906 592h2v2h-2zM924 6h2v2h-2zM924 24h2v2h-2zM924 42h2v2h-2zM924 60h2v2h-2zM924 79h2v2h-2zM924 97h2v2h-2zM924 115h2v2h-2zM924 134h2v2h-2zM924 152h2v2h-2zM924 170h2v2h-2zM924 189h2v2h-2zM924 207h2v2h-2zM924 225h2v2h-2zM924 244h2v2h-2zM924 262h2v2h-2zM924 280h2v2h-2zM924 299h2v2h-2zM924 317h2v2h-2zM924 335h2v2h-2zM924 354h2v2h-2zM924 372h2v2h-2zM924 390h2v2h-2zM924 409h2v2h-2zM924 427h2v2h-2zM924 445h2v2h-2zM924 464h2v2h-2zM924 482h2v2h-2zM924 500h2v2h-2zM924 519h2v2h-2zM924 537h2v2h-2zM924 555h2v2h-2zM924 574h2v2h-2zM924 592h2v2h-2zM943 6h2v2h-2zM943 24h2v2h-2zM943 42h2v2h-2zM943 60h2v2h-2zM943 79h2v2h-2zM943 97h2v2h-2zM943 115h2v2h-2zM943 134h2v2h-2zM943 152h2v2h-2zM943 170h2v2h-2zM943 189h2v2h-2zM943 207h2v2h-2zM943 225h2v2h-2zM943 244h2v2h-2zM943 262h2v2h-2zM943 280h2v2h-2zM943 299h2v2h-2zM943 317h2v2h-2zM943 335h2v2h-2zM943 354h2v2h-2zM943 372h2v2h-2zM943 390h2v2h-2zM943 409h2v2h-2zM943 427h2v2h-2zM943 445h2v2h-2zM943 464h2v2h-2zM943 482h2v2h-2zM943 500h2v2h-2zM943 519h2v2h-2zM943 537h2v2h-2zM943 555h2v2h-2zM943 574h2v2h-2zM943 592h2v2h-2zM961 6h2v2h-2zM961 24h2v2h-2zM961 42h2v2h-2zM961 60h2v2h-2zM961 79h2v2h-2zM961 97h2v2h-2zM961 115h2v2h-2zM961 134h2v2h-2zM961 152h2v2h-2zM961 170h2v2h-2zM961 189h2v2h-2zM961 207h2v2h-2zM961 225h2v2h-2zM961 244h2v2h-2zM961 262h2v2h-2zM961 280h2v2h-2zM961 299h2v2h-2zM961 317h2v2h-2zM961 335h2v2h-2zM961 354h2v2h-2zM961 372h2v2h-2zM961 390h2v2h-2zM961 409h2v2h-2zM961 427h2v2h-2zM961 445h2v2h-2zM961 464h2v2h-2zM961 482h2v2h-2zM961 500h2v2h-2zM961 519h2v2h-2zM961 537h2v2h-2zM961 555h2v2h-2zM961 574h2v2h-2zM961 592h2v2h-2zM979 6h2v2h-2zM979 24h2v2h-2zM979 42h2v2h-2zM979 60h2v2h-2zM979 79h2v2h-2zM979 97h2v2h-2zM979 115h2v2h-2zM979 134h2v2h-2zM979 152h2v2h-2zM979 170h2v2h-2zM979 189h2v2h-2zM979 207h2v2h-2zM979 225h2v2h-2zM979 244h2v2h-2zM979 262h2v2h-2zM979 280h2v2h-2zM979 299h2v2h-2zM979 317h2v2h-2zM979 335h2v2h-2zM979 354h2v2h-2zM979 372h2v2h-2zM979 390h2v2h-2zM979 409h2v2h-2zM979 427h2v2h-2zM979 445h2v2h-2zM979 464h2v2h-2zM979 482h2v2h-2zM979 500h2v2h-2zM979 519h2v2h-2zM979 537h2v2h-2zM979 555h2v2h-2zM979 574h2v2h-2zM979 592h2v2h-2zM998 6h2v2h-2zM998 24h2v2h-2zM998 42h2v2h-2zM998 60h2v2h-2zM998 79h2v2h-2zM998 97h2v2h-2zM998 115h2v2h-2zM998 134h2v2h-2zM998 152h2v2h-2zM998 170h2v2h-2zM998 189h2v2h-2zM998 207h2v2h-2zM998 225h2v2h-2zM998 244h2v2h-2zM998 262h2v2h-2zM998 280h2v2h-2zM998 299h2v2h-2zM998 317h2v2h-2zM998 335h2v2h-2zM998 354h2v2h-2zM998 372h2v2h-2zM998 390h2v2h-2zM998 409h2v2h-2zM998 427h2v2h-2zM998 445h2v2h-2zM998 464h2v2h-2zM998 482h2v2h-2zM998 500h2v2h-2zM998 519h2v2h-2zM998 537h2v2h-2zM998 555h2v2h-2zM998 574h2v2h-2zM998 592h2v2h-2zM1016 6h2v2h-2zM1016 24h2v2h-2zM1016 42h2v2h-2zM1016 60h2v2h-2zM1016 79h2v2h-2zM1016 97h2v2h-2zM1016 115h2v2h-2zM1016 134h2v2h-2zM1016 152h2v2h-2zM1016 170h2v2h-2zM1016 189h2v2h-2zM1016 207h2v2h-2zM1016 225h2v2h-2zM1016 244h2v2h-2zM1016 262h2v2h-2zM1016 280h2v2h-2zM1016 299h2v2h-2zM1016 317h2v2h-2zM1016 335h2v2h-2zM1016 354h2v2h-2zM1016 372h2v2h-2zM1016 390h2v2h-2zM1016 409h2v2h-2zM1016 427h2v2h-2zM1016 445h2v2h-2zM1016 464h2v2h-2zM1016 482h2v2h-2zM1016 500h2v2h-2zM1016 519h2v2h-2zM1016 537h2v2h-2zM1016 555h2v2h-2zM1016 574h2v2h-2zM1016 592h2v2h-2zM1034 6h2v2h-2zM1034 24h2v2h-2zM1034 42h2v2h-2zM1034 60h2v2h-2zM1034 79h2v2h-2zM1034 97h2v2h-2zM1034 115h2v2h-2zM1034 134h2v2h-2zM1034 152h2v2h-2zM1034 170h2v2h-2zM1034 189h2v2h-2zM1034 207h2v2h-2zM1034 225h2v2h-2zM1034 244h2v2h-2zM1034 262h2v2h-2zM1034 280h2v2h-2zM1034 299h2v2h-2zM1034 317h2v2h-2zM1034 335h2v2h-2zM1034 354h2v2h-2zM1034 372h2v2h-2zM1034 390h2v2h-2zM1034 409h2v2h-2zM1034 427h2v2h-2zM1034 445h2v2h-2zM1034 464h2v2h-2zM1034 482h2v2h-2zM1034 500h2v2h-2zM1034 519h2v2h-2zM1034 537h2v2h-2zM1034 555h2v2h-2zM1034 574h2v2h-2zM1034 592h2v2h-2zM1052 6h2v2h-2zM1052 24h2v2h-2zM1052 42h2v2h-2zM1052 60h2v2h-2zM1052 79h2v2h-2zM1052 97h2v2h-2zM1052 115h2v2h-2zM1052 134h2v2h-2zM1052 152h2v2h-2zM1052 170h2v2h-2zM1052 189h2v2h-2zM1052 207h2v2h-2zM1052 225h2v2h-2zM1052 244h2v2h-2zM1052 262h2v2h-2zM1052 280h2v2h-2zM1052 299h2v2h-2zM1052 317h2v2h-2zM1052 335h2v2h-2zM1052 354h2v2h-2zM1052 372h2v2h-2zM1052 390h2v2h-2zM1052 409h2v2h-2zM1052 427h2v2h-2zM1052 445h2v2h-2zM1052 464h2v2h-2zM1052 482h2v2h-2zM1052 500h2v2h-2zM1052 519h2v2h-2zM1052 537h2v2h-2zM1052 555h2v2h-2zM1052 574h2v2h-2zM1052 592h2v2h-2zM1071 6h2v2h-2zM1071 24h2v2h-2zM1071 42h2v2h-2zM1071 60h2v2h-2zM1071 79h2v2h-2zM1071 97h2v2h-2zM1071 115h2v2h-2zM1071 134h2v2h-2zM1071 152h2v2h-2zM1071 170h2v2h-2zM1071 189h2v2h-2zM1071 207h2v2h-2zM1071 225h2v2h-2zM1071 244h2v2h-2zM1071 262h2v2h-2zM1071 280h2v2h-2zM1071 299h2v2h-2zM1071 317h2v2h-2zM1071 335h2v2h-2zM1071 354h2v2h-2zM1071 372h2v2h-2zM1071 390h2v2h-2zM1071 409h2v2h-2zM1071 427h2v2h-2zM1071 445h2v2h-2zM1071 464h2v2h-2zM1071 482h2v2h-2zM1071 500h2v2h-2zM1071 519h2v2h-2zM1071 537h2v2h-2zM1071 555h2v2h-2zM1071 574h2v2h-2zM1071 592h2v2h-2zM1089 6h2v2h-2zM1089 24h2v2h-2zM1089 42h2v2h-2zM1089 60h2v2h-2zM1089 79h2v2h-2zM1089 97h2v2h-2zM1089 115h2v2h-2zM1089 134h2v2h-2zM1089 152h2v2h-2zM1089 170h2v2h-2zM1089 189h2v2h-2zM1089 207h2v2h-2zM1089 225h2v2h-2zM1089 244h2v2h-2zM1089 262h2v2h-2zM1089 280h2v2h-2zM1089 299h2v2h-2zM1089 317h2v2h-2zM1089 335h2v2h-2zM1089 354h2v2h-2zM1089 372h2v2h-2zM1089 390h2v2h-2zM1089 409h2v2h-2zM1089 427h2v2h-2zM1089 445h2v2h-2zM1089 464h2v2h-2zM1089 482h2v2h-2zM1089 500h2v2h-2zM1089 519h2v2h-2zM1089 537h2v2h-2zM1089 555h2v2h-2zM1089 574h2v2h-2zM1089 592h2v2h-2zM1107 6h2v2h-2zM1107 24h2v2h-2zM1107 42h2v2h-2zM1107 60h2v2h-2zM1107 79h2v2h-2zM1107 97h2v2h-2zM1107 115h2v2h-2zM1107 134h2v2h-2zM1107 152h2v2h-2zM1107 170h2v2h-2zM1107 189h2v2h-2zM1107 207h2v2h-2zM1107 225h2v2h-2zM1107 244h2v2h-2zM1107 262h2v2h-2zM1107 280h2v2h-2zM1107 299h2v2h-2zM1107 317h2v2h-2zM1107 335h2v2h-2zM1107 354h2v2h-2zM1107 372h2v2h-2zM1107 390h2v2h-2zM1107 409h2v2h-2zM1107 427h2v2h-2zM1107 445h2v2h-2zM1107 464h2v2h-2zM1107 482h2v2h-2zM1107 500h2v2h-2zM1107 519h2v2h-2zM1107 537h2v2h-2zM1107 555h2v2h-2zM1107 574h2v2h-2zM1107 592h2v2h-2zM1125 6h2v2h-2zM1125 24h2v2h-2zM1125 42h2v2h-2zM1125 60h2v2h-2zM1125 79h2v2h-2zM1125 97h2v2h-2zM1125 115h2v2h-2zM1125 134h2v2h-2zM1125 152h2v2h-2zM1125 170h2v2h-2zM1125 189h2v2h-2zM1125 207h2v2h-2zM1125 225h2v2h-2zM1125 244h2v2h-2zM1125 262h2v2h-2zM1125 280h2v2h-2zM1125 299h2v2h-2zM1125 317h2v2h-2zM1125 335h2v2h-2zM1125 354h2v2h-2zM1125 372h2v2h-2zM1125 390h2v2h-2zM1125 409h2v2h-2zM1125 427h2v2h-2zM1125 445h2v2h-2zM1125 464h2v2h-2zM1125 482h2v2h-2zM1125 500h2v2h-2zM1125 519h2v2h-2zM1125 537h2v2h-2zM1125 555h2v2h-2zM1125 574h2v2h-2zM1125 592h2v2h-2zM1144 6h2v2h-2zM1144 24h2v2h-2zM1144 42h2v2h-2zM1144 60h2v2h-2zM1144 79h2v2h-2zM1144 97h2v2h-2zM1144 115h2v2h-2zM1144 134h2v2h-2zM1144 152h2v2h-2zM1144 170h2v2h-2zM1144 189h2v2h-2zM1144 207h2v2h-2zM1144 225h2v2h-2zM1144 244h2v2h-2zM1144 262h2v2h-2zM1144 280h2v2h-2zM1144 299h2v2h-2zM1144 317h2v2h-2zM1144 335h2v2h-2zM1144 354h2v2h-2zM1144 372h2v2h-2zM1144 390h2v2h-2zM1144 409h2v2h-2zM1144 427h2v2h-2zM1144 445h2v2h-2zM1144 464h2v2h-2zM1144 482h2v2h-2zM1144 500h2v2h-2zM1144 519h2v2h-2zM1144 537h2v2h-2zM1144 555h2v2h-2zM1144 574h2v2h-2zM1144 592h2v2h-2zM1162 6h2v2h-2zM1162 24h2v2h-2zM1162 42h2v2h-2zM1162 60h2v2h-2zM1162 79h2v2h-2zM1162 97h2v2h-2zM1162 115h2v2h-2zM1162 134h2v2h-2zM1162 152h2v2h-2zM1162 170h2v2h-2zM1162 189h2v2h-2zM1162 207h2v2h-2zM1162 225h2v2h-2zM1162 244h2v2h-2zM1162 262h2v2h-2zM1162 280h2v2h-2zM1162 299h2v2h-2zM1162 317h2v2h-2zM1162 335h2v2h-2zM1162 354h2v2h-2zM1162 372h2v2h-2zM1162 390h2v2h-2zM1162 409h2v2h-2zM1162 427h2v2h-2zM1162 445h2v2h-2zM1162 464h2v2h-2zM1162 482h2v2h-2zM1162 500h2v2h-2zM1162 519h2v2h-2zM1162 537h2v2h-2zM1162 555h2v2h-2zM1162 574h2v2h-2zM1162 592h2v2h-2zM1180 6h2v2h-2zM1180 24h2v2h-2zM1180 42h2v2h-2zM1180 60h2v2h-2zM1180 79h2v2h-2zM1180 97h2v2h-2zM1180 115h2v2h-2zM1180 134h2v2h-2zM1180 152h2v2h-2zM1180 170h2v2h-2zM1180 189h2v2h-2zM1180 207h2v2h-2zM1180 225h2v2h-2zM1180 244h2v2h-2zM1180 262h2v2h-2zM1180 280h2v2h-2zM1180 299h2v2h-2zM1180 317h2v2h-2zM1180 335h2v2h-2zM1180 354h2v2h-2zM1180 372h2v2h-2zM1180 390h2v2h-2zM1180 409h2v2h-2zM1180 427h2v2h-2zM1180 445h2v2h-2zM1180 464h2v2h-2zM1180 482h2v2h-2zM1180 500h2v2h-2zM1180 519h2v2h-2zM1180 537h2v2h-2zM1180 555h2v2h-2zM1180 574h2v2h-2zM1180 592h2v2h-2zM1199 6h2v2h-2zM1199 24h2v2h-2zM1199 42h2v2h-2zM1199 60h2v2h-2zM1199 79h2v2h-2zM1199 97h2v2h-2zM1199 115h2v2h-2zM1199 134h2v2h-2zM1199 152h2v2h-2zM1199 170h2v2h-2zM1199 189h2v2h-2zM1199 207h2v2h-2zM1199 225h2v2h-2zM1199 244h2v2h-2zM1199 262h2v2h-2zM1199 280h2v2h-2zM1199 299h2v2h-2zM1199 317h2v2h-2zM1199 335h2v2h-2zM1199 354h2v2h-2zM1199 372h2v2h-2zM1199 390h2v2h-2zM1199 409h2v2h-2zM1199 427h2v2h-2zM1199 445h2v2h-2zM1199 464h2v2h-2zM1199 482h2v2h-2zM1199 500h2v2h-2zM1199 519h2v2h-2zM1199 537h2v2h-2zM1199 555h2v2h-2zM1199 574h2v2h-2zM1199 592h2v2h-2zM1217 6h2v2h-2zM1217 24h2v2h-2zM1217 42h2v2h-2zM1217 60h2v2h-2zM1217 79h2v2h-2zM1217 97h2v2h-2zM1217 115h2v2h-2zM1217 134h2v2h-2zM1217 152h2v2h-2zM1217 170h2v2h-2zM1217 189h2v2h-2zM1217 207h2v2h-2zM1217 225h2v2h-2zM1217 244h2v2h-2zM1217 262h2v2h-2zM1217 280h2v2h-2zM1217 299h2v2h-2zM1217 317h2v2h-2zM1217 335h2v2h-2zM1217 354h2v2h-2zM1217 372h2v2h-2zM1217 390h2v2h-2zM1217 409h2v2h-2zM1217 427h2v2h-2zM1217 445h2v2h-2zM1217 464h2v2h-2zM1217 482h2v2h-2zM1217 500h2v2h-2zM1217 519h2v2h-2zM1217 537h2v2h-2zM1217 555h2v2h-2zM1217 574h2v2h-2zM1217 592h2v2h-2zM1235 6h2v2h-2zM1235 24h2v2h-2zM1235 42h2v2h-2zM1235 60h2v2h-2zM1235 79h2v2h-2zM1235 97h2v2h-2zM1235 115h2v2h-2zM1235 134h2v2h-2zM1235 152h2v2h-2zM1235 170h2v2h-2zM1235 189h2v2h-2zM1235 207h2v2h-2zM1235 225h2v2h-2zM1235 244h2v2h-2zM1235 262h2v2h-2zM1235 280h2v2h-2zM1235 299h2v2h-2zM1235 317h2v2h-2zM1235 335h2v2h-2zM1235 354h2v2h-2zM1235 372h2v2h-2zM1235 390h2v2h-2zM1235 409h2v2h-2zM1235 427h2v2h-2zM1235 445h2v2h-2zM1235 464h2v2h-2zM1235 482h2v2h-2zM1235 500h2v2h-2zM1235 519h2v2h-2zM1235 537h2v2h-2zM1235 555h2v2h-2zM1235 574h2v2h-2zM1235 592h2v2h-2zM1253 6h2v2h-2zM1253 24h2v2h-2zM1253 42h2v2h-2zM1253 60h2v2h-2zM1253 79h2v2h-2zM1253 97h2v2h-2zM1253 115h2v2h-2zM1253 134h2v2h-2zM1253 152h2v2h-2zM1253 170h2v2h-2zM1253 189h2v2h-2zM1253 207h2v2h-2zM1253 225h2v2h-2zM1253 244h2v2h-2zM1253 262h2v2h-2zM1253 280h2v2h-2zM1253 299h2v2h-2zM1253 317h2v2h-2zM1253 335h2v2h-2zM1253 354h2v2h-2zM1253 372h2v2h-2zM1253 390h2v2h-2zM1253 409h2v2h-2zM1253 427h2v2h-2zM1253 445h2v2h-2zM1253 464h2v2h-2zM1253 482h2v2h-2zM1253 500h2v2h-2zM1253 519h2v2h-2zM1253 537h2v2h-2zM1253 555h2v2h-2zM1253 574h2v2h-2zM1253 592h2v2h-2zM1272 6h2v2h-2zM1272 24h2v2h-2zM1272 42h2v2h-2zM1272 60h2v2h-2zM1272 79h2v2h-2zM1272 97h2v2h-2zM1272 115h2v2h-2zM1272 134h2v2h-2zM1272 152h2v2h-2zM1272 170h2v2h-2zM1272 189h2v2h-2zM1272 207h2v2h-2zM1272 225h2v2h-2zM1272 244h2v2h-2zM1272 262h2v2h-2zM1272 280h2v2h-2zM1272 299h2v2h-2zM1272 317h2v2h-2zM1272 335h2v2h-2zM1272 354h2v2h-2zM1272 372h2v2h-2zM1272 390h2v2h-2zM1272 409h2v2h-2zM1272 427h2v2h-2zM1272 445h2v2h-2zM1272 464h2v2h-2zM1272 482h2v2h-2zM1272 500h2v2h-2zM1272 519h2v2h-2zM1272 537h2v2h-2zM1272 555h2v2h-2zM1272 574h2v2h-2zM1272 592h2v2h-2zM1290 6h2v2h-2zM1290 24h2v2h-2zM1290 42h2v2h-2zM1290 60h2v2h-2zM1290 79h2v2h-2zM1290 97h2v2h-2zM1290 115h2v2h-2zM1290 134h2v2h-2zM1290 152h2v2h-2zM1290 170h2v2h-2zM1290 189h2v2h-2zM1290 207h2v2h-2zM1290 225h2v2h-2zM1290 244h2v2h-2zM1290 262h2v2h-2zM1290 280h2v2h-2zM1290 299h2v2h-2zM1290 317h2v2h-2zM1290 335h2v2h-2zM1290 354h2v2h-2zM1290 372h2v2h-2zM1290 390h2v2h-2zM1290 409h2v2h-2zM1290 427h2v2h-2zM1290 445h2v2h-2zM1290 464h2v2h-2zM1290 482h2v2h-2zM1290 500h2v2h-2zM1290 519h2v2h-2zM1290 537h2v2h-2zM1290 555h2v2h-2zM1290 574h2v2h-2zM1290 592h2v2h-2zM1308 6h2v2h-2zM1308 24h2v2h-2zM1308 42h2v2h-2zM1308 60h2v2h-2zM1308 79h2v2h-2zM1308 97h2v2h-2zM1308 115h2v2h-2zM1308 134h2v2h-2zM1308 152h2v2h-2zM1308 170h2v2h-2zM1308 189h2v2h-2zM1308 207h2v2h-2zM1308 225h2v2h-2zM1308 244h2v2h-2zM1308 262h2v2h-2zM1308 280h2v2h-2zM1308 299h2v2h-2zM1308 317h2v2h-2zM1308 335h2v2h-2zM1308 354h2v2h-2zM1308 372h2v2h-2zM1308 390h2v2h-2zM1308 409h2v2h-2zM1308 427h2v2h-2zM1308 445h2v2h-2zM1308 464h2v2h-2zM1308 482h2v2h-2zM1308 500h2v2h-2zM1308 519h2v2h-2zM1308 537h2v2h-2zM1308 555h2v2h-2zM1308 574h2v2h-2zM1308 592h2v2h-2z" fill="#e6e6e6"/>
<rect x="11.5" y="153.5" width="201" height="385" fill="none" stroke="#000" stroke-width="1"/>
<line x1="212.5" y1="318.5" x2="360" y2="318.5" stroke="#641a3a" stroke-width="1"/>
<line x1="360" y1="318.5" x2="413.5" y2="318.5" stroke="#9a2632" stroke-width="1"/>
<line x1="212.5" y1="373.5" x2="360" y2="373.5" stroke="#641a3a" stroke-width="1"/>
<line x1="360" y1="373.5" x2="413.5" y2="373.5" stroke="#9a2632" stroke-width="1"/>
<line x1="212.5" y1="428.5" x2="360" y2="428.5" stroke="#641a3a" stroke-width="1"/>
<line x1="360" y1="428.5" x2="413.5" y2="428.5" stroke="#9a2632" stroke-width="1"/>
<line x1="212.5" y1="483.5" x2="360" y2="483.5" stroke="#641a3a" stroke-width="1"/>
<line x1="360" y1="483.5" x2="413.5" y2="483.5" stroke="#9a2632" stroke-width="1"/>
<polygon points="408,313.0 408,324.0 414,318.5" fill="#e81818"/>
<polygon points="408,368.0 408,379.0 414,373.5" fill="#e81818"/>
<polygon points="529,423.0 529,434.0 523.5,428.5" fill="#e81818"/>
<polygon points="529,478.0 529,489.0 523.5,483.5" fill="#e81818"/>
<rect x="413.5" y="98.5" width="110" height="421" fill="none" stroke="#1c0c7c" stroke-width="1"/>
<path d="M413.5 117.5H358.5V139M358.5 148.3V190.5H413.5" fill="none" stroke="#9a2632"/>
<line x1="351.5" y1="139" x2="366.6" y2="139" stroke="#0a0af0" stroke-width="4.6" stroke-linecap="round"/>
<line x1="351.5" y1="148.3" x2="366.6" y2="148.3" stroke="#0a0af0" stroke-width="4.6" stroke-linecap="round"/>
<path d="M413.5 208.5H358.5V230.5M358.5 239.4V281.5H413.5" fill="none" stroke="#9a2632"/>
<line x1="351.5" y1="230.5" x2="366.6" y2="230.5" stroke="#0a0af0" stroke-width="4.6" stroke-linecap="round"/>
<line x1="351.5" y1="239.4" x2="366.6" y2="239.4" stroke="#0a0af0" stroke-width="4.6" stroke-linecap="round"/>
<g stroke-linecap="round"></g>
<line x1="523.5" y1="117.5" x2="578" y2="117.5" stroke="#9a2632" stroke-width="1"/>
<line x1="523.5" y1="172.5" x2="578" y2="172.5" stroke="#9a2632" stroke-width="1"/>
<line x1="523.5" y1="208.5" x2="578" y2="208.5" stroke="#9a2632" stroke-width="1"/>
<line x1="523.5" y1="281.5" x2="578" y2="281.5" stroke="#9a2632" stroke-width="1"/>
<line x1="523.5" y1="318.5" x2="578" y2="318.5" stroke="#9a2632" stroke-width="1"/>
<line x1="523.5" y1="373.5" x2="578" y2="373.5" stroke="#9a2632" stroke-width="1"/>
<line x1="523.5" y1="428.5" x2="578" y2="428.5" stroke="#9a2632" stroke-width="1"/>
<line x1="523.5" y1="483.5" x2="578" y2="483.5" stroke="#9a2632" stroke-width="1"/>
<path d="M578 117.5H651.5V35" fill="none" stroke="#641a3a"/>
<circle cx="651" cy="30" r="4.4" fill="#fff" stroke="#8a1c34"/>
<path d="M596.5 117.5V139M596.5 148V172.5" fill="none" stroke="#9a2632"/>
<line x1="589.5" y1="139" x2="603.5" y2="139" stroke="#0a0af0" stroke-width="4.6" stroke-linecap="round"/>
<line x1="589.5" y1="148" x2="603.5" y2="148" stroke="#0a0af0" stroke-width="4.6" stroke-linecap="round"/>
<path d="M578 172.5H706" fill="none" stroke="#641a3a"/>
<path d="M651.5 172.5V281.5" fill="none" stroke="#641a3a"/>
<path d="M578 208.5H600.5M609.5 208.5H651.5" fill="none" stroke="#641a3a"/>
<line x1="600.5" y1="201.0" x2="600.5" y2="216.0" stroke="#0a0af0" stroke-width="4.8" stroke-linecap="round"/>
<line x1="609.5" y1="201.0" x2="609.5" y2="216.0" stroke="#0a0af0" stroke-width="4.8" stroke-linecap="round"/>
<path d="M578 281.5H600.5M609.5 281.5H651.5" fill="none" stroke="#641a3a"/>
<line x1="600.5" y1="274.0" x2="600.5" y2="289.0" stroke="#0a0af0" stroke-width="4.8" stroke-linecap="round"/>
<line x1="609.5" y1="274.0" x2="609.5" y2="289.0" stroke="#0a0af0" stroke-width="4.8" stroke-linecap="round"/>
<path d="M706.5 153V191M711.5 160V185M717.5 164V179" fill="none" stroke="#9a2632"/>
<rect x="722" y="172" width="1" height="1" fill="#555"/>
<circle cx="596.5" cy="117.5" r="3.6" fill="#ff10ff"/>
<circle cx="596.5" cy="172.5" r="3.6" fill="#ff10ff"/>
<circle cx="651.5" cy="172.5" r="3.6" fill="#ff10ff"/>
<circle cx="651.5" cy="208.5" r="3.6" fill="#ff10ff"/>
<path d="M578 318.5H1146" fill="none" stroke="#641a3a"/>
<path d="M578 373.5H724.5V336.5H1146" fill="none" stroke="#641a3a"/>
<path d="M578 428.5H761.5V300.5H1146" fill="none" stroke="#641a3a"/>
<path d="M578 483.5H797.5V355.5H1146" fill="none" stroke="#641a3a"/>
<line x1="1145.5" y1="263.5" x2="1200.5" y2="263.5" stroke="#9a2632" stroke-width="1"/>
<line x1="1200.5" y1="263.5" x2="1218.5" y2="263.5" stroke="#1c0c7c" stroke-width="1"/>
<circle cx="1227.5" cy="263.5" r="9" fill="none" stroke="#1c0c7c"/>
<g fill="#000"><text filter="url(#al2)" x="1178.32" y="258.0" font-size="15.6" font-family="Liberation Sans" > </text><path d="M1183 246h1v12h-1zM1182 247h1v1h-1zM1181 248h1v1h-1zM1180 249h1v1h-1z"/></g>
<line x1="1145.5" y1="281.5" x2="1200.5" y2="281.5" stroke="#9a2632" stroke-width="1"/>
<line x1="1200.5" y1="281.5" x2="1255" y2="281.5" stroke="#1c0c7c" stroke-width="1"/>
<circle cx="1264" cy="281.5" r="9" fill="none" stroke="#1c0c7c"/>
<text x="1187" y="276.0" font-size="15.6" fill="#000" text-anchor="end" font-family="Liberation Sans"  filter="url(#al2)">6</text>
<line x1="1145.5" y1="300.5" x2="1200.5" y2="300.5" stroke="#9a2632" stroke-width="1"/>
<line x1="1200.5" y1="300.5" x2="1218.5" y2="300.5" stroke="#1c0c7c" stroke-width="1"/>
<circle cx="1227.5" cy="300.5" r="9" fill="none" stroke="#1c0c7c"/>
<text x="1187" y="295.0" font-size="15.6" fill="#000" text-anchor="end" font-family="Liberation Sans"  filter="url(#al2)">2</text>
<line x1="1145.5" y1="318.5" x2="1200.5" y2="318.5" stroke="#9a2632" stroke-width="1"/>
<line x1="1200.5" y1="318.5" x2="1255" y2="318.5" stroke="#1c0c7c" stroke-width="1"/>
<circle cx="1264" cy="318.5" r="9" fill="none" stroke="#1c0c7c"/>
<text x="1187" y="313.0" font-size="15.6" fill="#000" text-anchor="end" font-family="Liberation Sans"  filter="url(#al2)">7</text>
<line x1="1145.5" y1="336.5" x2="1200.5" y2="336.5" stroke="#9a2632" stroke-width="1"/>
<line x1="1200.5" y1="336.5" x2="1218.5" y2="336.5" stroke="#1c0c7c" stroke-width="1"/>
<circle cx="1227.5" cy="336.5" r="9" fill="none" stroke="#1c0c7c"/>
<text x="1187" y="331.0" font-size="15.6" fill="#000" text-anchor="end" font-family="Liberation Sans"  filter="url(#al2)">3</text>
<line x1="1145.5" y1="355.5" x2="1200.5" y2="355.5" stroke="#9a2632" stroke-width="1"/>
<line x1="1200.5" y1="355.5" x2="1255" y2="355.5" stroke="#1c0c7c" stroke-width="1"/>
<circle cx="1264" cy="355.5" r="9" fill="none" stroke="#1c0c7c"/>
<text x="1187" y="350.0" font-size="15.6" fill="#000" text-anchor="end" font-family="Liberation Sans"  filter="url(#al2)">8</text>
<line x1="1145.5" y1="373.5" x2="1200.5" y2="373.5" stroke="#9a2632" stroke-width="1"/>
<line x1="1200.5" y1="373.5" x2="1218.5" y2="373.5" stroke="#1c0c7c" stroke-width="1"/>
<circle cx="1227.5" cy="373.5" r="9" fill="none" stroke="#1c0c7c"/>
<text x="1187" y="368.0" font-size="15.6" fill="#000" text-anchor="end" font-family="Liberation Sans"  filter="url(#al2)">4</text>
<line x1="1145.5" y1="391.5" x2="1200.5" y2="391.5" stroke="#9a2632" stroke-width="1"/>
<line x1="1200.5" y1="391.5" x2="1255" y2="391.5" stroke="#1c0c7c" stroke-width="1"/>
<circle cx="1264" cy="391.5" r="9" fill="none" stroke="#1c0c7c"/>
<text x="1187" y="386.0" font-size="15.6" fill="#000" text-anchor="end" font-family="Liberation Sans"  filter="url(#al2)">9</text>
<line x1="1145.5" y1="410.5" x2="1200.5" y2="410.5" stroke="#9a2632" stroke-width="1"/>
<line x1="1200.5" y1="410.5" x2="1218.5" y2="410.5" stroke="#1c0c7c" stroke-width="1"/>
<circle cx="1227.5" cy="410.5" r="9" fill="none" stroke="#1c0c7c"/>
<text x="1187" y="405.0" font-size="15.6" fill="#000" text-anchor="end" font-family="Liberation Sans"  filter="url(#al2)">5</text>
<path d="M1140 258.0L1151 269.0M1140 269.0L1151 258.0" stroke="#5c2830" fill="none" shape-rendering="crispEdges"/>
<path d="M1140 276.0L1151 287.0M1140 287.0L1151 276.0" stroke="#5c2830" fill="none" shape-rendering="crispEdges"/>
<path d="M1140 368.0L1151 379.0M1140 379.0L1151 368.0" stroke="#5c2830" fill="none" shape-rendering="crispEdges"/>
<path d="M1140 386.0L1151 397.0M1140 397.0L1151 386.0" stroke="#5c2830" fill="none" shape-rendering="crispEdges"/>
<path d="M1145.5 410.5V556" fill="none" stroke="#641a3a"/>
<path d="M1200.5 244Q1201 228 1218 227.5L1279 246.7Q1292.5 251 1292.5 264V410Q1291.5 424 1280.5 427.2L1218.5 446.5Q1203 443 1200.5 430Z" fill="none" stroke="#1c0c7c"/>
<path d="M1218.5 446.5V501M1273.5 448.5V501" fill="none" stroke="#9a2632"/>
<path d="M1218.5 501V556M1273.5 501V556" fill="none" stroke="#641a3a"/>
<path d="M1273.5 428.5V448.5" fill="none" stroke="#1c0c7c"/>
<path d="M1127.5 556.5H1163.5M1132.5 561.5H1158.5M1138.5 567.5H1152.5M1143.5 572.5H1147.5" stroke="#9a2632" fill="none"/>
<path d="M1200.5 556.5H1236.5M1205.5 561.5H1231.5M1211.5 567.5H1225.5M1216.5 572.5H1220.5" stroke="#9a2632" fill="none"/>
<path d="M1255.5 556.5H1291.5M1260.5 561.5H1286.5M1266.5 567.5H1280.5M1271.5 572.5H1275.5" stroke="#9a2632" fill="none"/>
<line x1="413.5" y1="318.5" x2="450.5" y2="318.5" stroke="#1c0c7c" stroke-width="1"/>
<polygon points="450.5,300.5 450.5,336.5 486.5,318.5" fill="none" stroke="#1c0c7c"/>
<circle cx="490" cy="318.5" r="3.4" fill="#fff" stroke="#1c0c7c"/>
<line x1="493.4" y1="318.5" x2="523.5" y2="318.5" stroke="#1c0c7c" stroke-width="1"/>
<path fill="#1c0c7c" d="M456 318h7v1h-7zM456 319h1v3h-1zM462 319h1v3h-1zM459 319h1v7h-1zM457 326h5v1h-5z"/>
<line x1="413.5" y1="373.5" x2="450.5" y2="373.5" stroke="#1c0c7c" stroke-width="1"/>
<polygon points="450.5,355.5 450.5,391.5 486.5,373.5" fill="none" stroke="#1c0c7c"/>
<circle cx="490" cy="373.5" r="3.4" fill="#fff" stroke="#1c0c7c"/>
<line x1="493.4" y1="373.5" x2="523.5" y2="373.5" stroke="#1c0c7c" stroke-width="1"/>
<path fill="#1c0c7c" d="M456 373h7v1h-7zM456 374h1v3h-1zM462 374h1v3h-1zM459 374h1v7h-1zM457 381h5v1h-5z"/>
<line x1="413.5" y1="428.5" x2="443.2" y2="428.5" stroke="#1c0c7c" stroke-width="1"/>
<circle cx="446.5" cy="428.5" r="3.3" fill="#fff" stroke="#1c0c7c"/>
<polygon points="486.5,410.5 486.5,446.5 450.5,428.5" fill="none" stroke="#1c0c7c"/>
<line x1="486.5" y1="428.5" x2="523.5" y2="428.5" stroke="#1c0c7c" stroke-width="1"/>
<path fill="#1c0c7c" d="M474 427h5v1h-5zM475 428h1v7h-1zM479 428h1v3h-1zM476 431h3v1h-3zM479 432h1v1h-1zM480 433h1v2h-1zM474 435h3v1h-3zM481 435h1v1h-1z"/>
<line x1="413.5" y1="483.5" x2="443.2" y2="483.5" stroke="#1c0c7c" stroke-width="1"/>
<circle cx="446.5" cy="483.5" r="3.3" fill="#fff" stroke="#1c0c7c"/>
<polygon points="486.5,465.5 486.5,501.5 450.5,483.5" fill="none" stroke="#1c0c7c"/>
<line x1="486.5" y1="483.5" x2="523.5" y2="483.5" stroke="#1c0c7c" stroke-width="1"/>
<path fill="#1c0c7c" d="M474 482h5v1h-5zM475 483h1v7h-1zM479 483h1v3h-1zM476 486h3v1h-3zM479 487h1v1h-1zM480 488h1v2h-1zM474 490h3v1h-3zM481 490h1v1h-1z"/>
<text x="627.5" y="18.3" font-size="15.6" fill="#000" text-anchor="start" font-family="Liberation Sans"  filter="url(#al2)">3.3VD</text>
<g fill="#000"><text filter="url(#al2)" x="413.00" y="95" font-size="15.6" font-family="Liberation Sans" >MN 3</text><path d="M442 83h1v12h-1zM441 84h1v1h-1zM440 85h1v1h-1zM439 86h1v1h-1z"/></g>
<text transform="translate(421,535.8) scale(1.02,1)" font-size="15.6" fill="#000" text-anchor="start" font-family="Liberation Sans"  filter="url(#al2)">ADM3202ARN</text>
<g fill="#000"><text filter="url(#al2)" x="285.00" y="131.5" font-size="15.6" font-family="Liberation Sans" >C9 </text><path d="M310 120h1v12h-1zM309 121h1v1h-1zM308 122h1v1h-1zM307 123h1v1h-1z"/></g>
<g fill="#000"><text filter="url(#al2)" x="285.00" y="149.7" font-size="15.6" font-family="Liberation Sans" > 00NF</text><path d="M290 138h1v12h-1zM289 139h1v1h-1zM288 140h1v1h-1zM287 141h1v1h-1z"/></g>
<text x="285" y="222.6" font-size="15.6" fill="#000" text-anchor="start" font-family="Liberation Sans"  filter="url(#al2)">C94</text>
<g fill="#000"><text filter="url(#al2)" x="285.00" y="241.8" font-size="15.6" font-family="Liberation Sans" > 00NF</text><path d="M290 230h1v12h-1zM289 231h1v1h-1zM288 232h1v1h-1zM287 233h1v1h-1z"/></g>
<text x="614.5" y="131.6" font-size="15.6" fill="#000" text-anchor="start" font-family="Liberation Sans"  filter="url(#al2)">C92</text>
<g fill="#000"><text filter="url(#al2)" x="615.50" y="149.8" font-size="15.6" font-family="Liberation Sans" > 00NF</text><path d="M620 138h1v12h-1zM619 139h1v1h-1zM618 140h1v1h-1zM617 141h1v1h-1z"/></g>
<text x="669.5" y="205" font-size="15.6" fill="#000" text-anchor="start" font-family="Liberation Sans"  filter="url(#al2)">C93</text>
<g fill="#000"><text filter="url(#al2)" x="669.50" y="223" font-size="15.6" font-family="Liberation Sans" > 00NF</text><path d="M674 211h1v12h-1zM673 212h1v1h-1zM672 213h1v1h-1zM671 214h1v1h-1z"/></g>
<text x="669.5" y="259.4" font-size="15.6" fill="#000" text-anchor="start" font-family="Liberation Sans"  filter="url(#al2)">C95</text>
<g fill="#000"><text filter="url(#al2)" x="669.50" y="278.2" font-size="15.6" font-family="Liberation Sans" > 00NF</text><path d="M674 266h1v12h-1zM673 267h1v1h-1zM672 268h1v1h-1zM671 269h1v1h-1z"/></g>
<text x="725" y="176" font-size="15.6" fill="#000" text-anchor="start" font-family="Liberation Sans"  filter="url(#al2)">GND</text>
<text x="1145.5" y="205" font-size="15.6" fill="#000" text-anchor="start" font-family="Liberation Sans"  filter="url(#al2)">MALE RIGHT ANGLED</text>
<g fill="#000"><text filter="url(#al2)" x="1256.00" y="222.7" font-size="15.6" font-family="Liberation Sans" >J 5</text><path d="M1269 211h1v12h-1zM1268 212h1v1h-1zM1267 213h1v1h-1zM1266 214h1v1h-1z"/></g>
<text x="1127.5" y="592.6" font-size="15.6" fill="#000" text-anchor="start" font-family="Liberation Sans"  filter="url(#al2)">GND</text>
<g fill="#000"><text filter="url(#al2)" x="390.82" y="111.9" font-size="15.6" font-family="Liberation Sans" > </text><path d="M396 100h1v12h-1zM395 101h1v1h-1zM394 102h1v1h-1zM393 103h1v1h-1z"/></g>
<text x="399.5" y="184.9" font-size="15.6" fill="#000" text-anchor="end" font-family="Liberation Sans"  filter="url(#al2)">3</text>
<text x="399.5" y="202.9" font-size="15.6" fill="#000" text-anchor="end" font-family="Liberation Sans"  filter="url(#al2)">4</text>
<text x="399.5" y="275.9" font-size="15.6" fill="#000" text-anchor="end" font-family="Liberation Sans"  filter="url(#al2)">5</text>
<g fill="#000"><text filter="url(#al2)" x="382.15" y="312.9" font-size="15.6" font-family="Liberation Sans" >  </text><path d="M387 301h1v12h-1zM386 302h1v1h-1zM385 303h1v1h-1zM384 304h1v1h-1z"/><path d="M396 301h1v12h-1zM395 302h1v1h-1zM394 303h1v1h-1zM393 304h1v1h-1z"/></g>
<g fill="#000"><text filter="url(#al2)" x="382.15" y="367.9" font-size="15.6" font-family="Liberation Sans" > 0</text><path d="M387 356h1v12h-1zM386 357h1v1h-1zM385 358h1v1h-1zM384 359h1v1h-1z"/></g>
<g fill="#000"><text filter="url(#al2)" x="382.15" y="422.9" font-size="15.6" font-family="Liberation Sans" > 2</text><path d="M387 411h1v12h-1zM386 412h1v1h-1zM385 413h1v1h-1zM384 414h1v1h-1z"/></g>
<text x="399.5" y="477.9" font-size="15.6" fill="#000" text-anchor="end" font-family="Liberation Sans"  filter="url(#al2)">9</text>
<g fill="#000"><text filter="url(#al2)" x="536.40" y="111.9" font-size="15.6" font-family="Liberation Sans" > 6</text><path d="M541 100h1v12h-1zM540 101h1v1h-1zM539 102h1v1h-1zM538 103h1v1h-1z"/></g>
<g fill="#000"><text filter="url(#al2)" x="536.40" y="166.9" font-size="15.6" font-family="Liberation Sans" > 5</text><path d="M541 155h1v12h-1zM540 156h1v1h-1zM539 157h1v1h-1zM538 158h1v1h-1z"/></g>
<text x="536.4" y="202.9" font-size="15.6" fill="#000" text-anchor="start" font-family="Liberation Sans"  filter="url(#al2)">2</text>
<text x="536.4" y="275.9" font-size="15.6" fill="#000" text-anchor="start" font-family="Liberation Sans"  filter="url(#al2)">6</text>
<g fill="#000"><text filter="url(#al2)" x="536.40" y="312.9" font-size="15.6" font-family="Liberation Sans" > 4</text><path d="M541 301h1v12h-1zM540 302h1v1h-1zM539 303h1v1h-1zM538 304h1v1h-1z"/></g>
<text x="536.4" y="367.9" font-size="15.6" fill="#000" text-anchor="start" font-family="Liberation Sans"  filter="url(#al2)">7</text>
<g fill="#000"><text filter="url(#al2)" x="536.40" y="422.9" font-size="15.6" font-family="Liberation Sans" > 3</text><path d="M541 411h1v12h-1zM540 412h1v1h-1zM539 413h1v1h-1zM538 414h1v1h-1z"/></g>
<text x="536.4" y="477.9" font-size="15.6" fill="#000" text-anchor="start" font-family="Liberation Sans"  filter="url(#al2)">8</text>
<text transform="translate(1212.8,477) rotate(-90)" font-size="15.6" font-family="Liberation Sans" filter="url(#al2)"> 0</text>
<path d="M1201 471h12v1h-12zM1202 472h1v1h-1zM1203 473h1v1h-1zM1204 474h1v1h-1z"/>
<path d="M1256 471h12v1h-12zM1257 472h1v1h-1zM1258 473h1v1h-1zM1259 474h1v1h-1zM1256 462h12v1h-12zM1257 463h1v1h-1zM1258 464h1v1h-1zM1259 465h1v1h-1z"/>
<text transform="translate(417.5,124.8) scale(1,0.95)" font-size="14.8" fill="#14148a" text-anchor="start" font-family="Liberation Mono"  filter="url(#al)">C1+</text>
<text transform="translate(417.5,198.2) scale(1,0.95)" font-size="14.8" fill="#14148a" text-anchor="start" font-family="Liberation Mono"  filter="url(#al)">C1-</text>
<text transform="translate(417.5,216.6) scale(1,0.95)" font-size="14.8" fill="#14148a" text-anchor="start" font-family="Liberation Mono"  filter="url(#al)">C2+</text>
<text transform="translate(417.5,290) scale(1,0.95)" font-size="14.8" fill="#14148a" text-anchor="start" font-family="Liberation Mono"  filter="url(#al)">C2-</text>
<text transform="translate(484.5,124.8) scale(1,0.95)" font-size="14.8" fill="#14148a" text-anchor="start" font-family="Liberation Mono"  filter="url(#al)">VCC</text>
<text transform="translate(483.5,179.6) scale(1,0.95)" font-size="14.8" fill="#14148a" text-anchor="start" font-family="Liberation Mono"  filter="url(#al)">GND</text>
<text transform="translate(498,216.9) scale(1,0.95)" font-size="14.8" fill="#14148a" text-anchor="start" font-family="Liberation Mono"  filter="url(#al)">V+</text>
<text transform="translate(498,289.8) scale(1,0.95)" font-size="14.8" fill="#14148a" text-anchor="start" font-family="Liberation Mono"  filter="url(#al)">V-</text>
<text transform="translate(121,314.6) scale(1,0.82)" font-size="18.2" fill="#0c0c66" text-anchor="start" font-family="Liberation Mono" font-weight="bold" font-style="italic" stroke="#0c0c66" stroke-width="0.6" filter="url(#al)">UART RTS</text>
<rect x="163.3" y="317.9" width="11.4" height="1.9" fill="#0c0c66"/>
<text transform="translate(121,369.6) scale(1,0.82)" font-size="18.2" fill="#0c0c66" text-anchor="start" font-family="Liberation Mono" font-weight="bold" font-style="italic" stroke="#0c0c66" stroke-width="0.6" filter="url(#al)">UART TXD</text>
<rect x="163.3" y="372.9" width="11.4" height="1.9" fill="#0c0c66"/>
<text transform="translate(121,424.6) scale(1,0.82)" font-size="18.2" fill="#0c0c66" text-anchor="start" font-family="Liberation Mono" font-weight="bold" font-style="italic" stroke="#0c0c66" stroke-width="0.6" filter="url(#al)">UART RXD</text>
<rect x="163.3" y="427.9" width="11.4" height="1.9" fill="#0c0c66"/>
<text transform="translate(121,479.6) scale(1,0.82)" font-size="18.2" fill="#0c0c66" text-anchor="start" font-family="Liberation Mono" font-weight="bold" font-style="italic" stroke="#0c0c66" stroke-width="0.6" filter="url(#al)">UART CTS</text>
<rect x="163.3" y="482.9" width="11.4" height="1.9" fill="#0c0c66"/>
<text transform="translate(58,196.9) scale(0.986,1.22)" font-size="16" fill="#000" text-anchor="start" font-family="Liberation Mono"  filter="url(#al2)">USR-WIFI232</text>
<text transform="translate(761.5,291.2) scale(0.965,1)" font-size="29" fill="#000" text-anchor="start" font-family="Liberation Sans" font-weight="bold" stroke="#000" stroke-width="1.3" stroke-linejoin="round" filter="url(#al)">SERIAL</text>
<text transform="translate(872.9,291.2) scale(0.921,1)" font-size="29" fill="#000" text-anchor="start" font-family="Liberation Sans" font-weight="bold" stroke="#000" stroke-width="1.3" stroke-linejoin="round" filter="url(#al)">DEBUG</text>
<text transform="translate(978.6,291.2) scale(0.931,1)" font-size="29" fill="#000" text-anchor="start" font-family="Liberation Sans" font-weight="bold" stroke="#000" stroke-width="1.3" stroke-linejoin="round" filter="url(#al)">PORT</text>
</svg>
</body></html>
